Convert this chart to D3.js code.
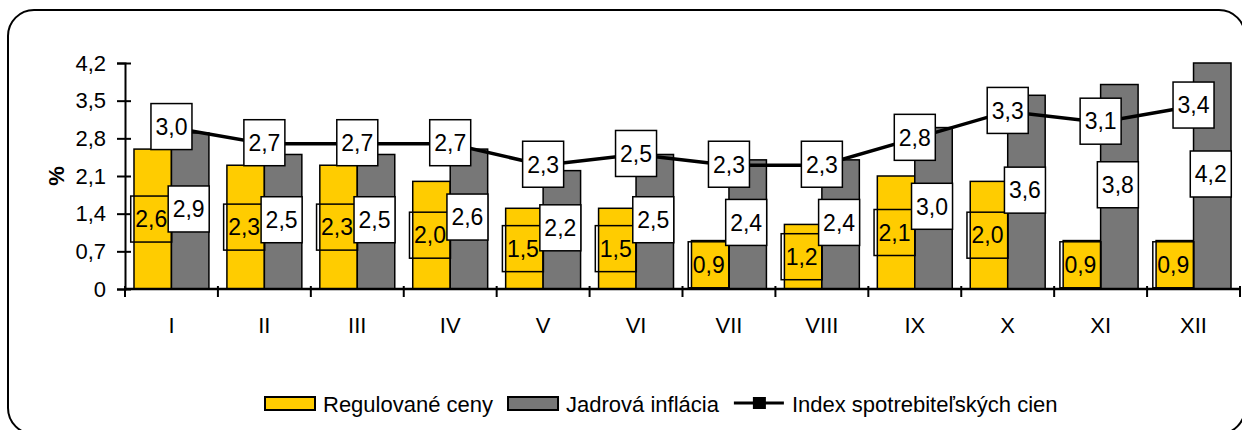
<!DOCTYPE html>
<html>
<head>
<meta charset="utf-8">
<script src="https://cdn.jsdelivr.net/npm/d3@7"></script>
<style>
  body { margin: 0; background: #fff; }
  svg { display: block; font-family: "Liberation Sans", Arial, sans-serif; }
</style>
</head>
<body>
<svg id="chart" width="1242" height="430"></svg>
<script>
const months = ['I', 'II', 'III', 'IV', 'V', 'VI', 'VII', 'VIII', 'IX', 'X', 'XI', 'XII'];
const regulovane = [2.6, 2.3, 2.3, 2.0, 1.5, 1.5, 0.9, 1.2, 2.1, 2.0, 0.9, 0.9];
const jadrova = [2.9, 2.5, 2.5, 2.6, 2.2, 2.5, 2.4, 2.4, 3.0, 3.6, 3.8, 4.2];
const indexCien = [3.0, 2.7, 2.7, 2.7, 2.3, 2.5, 2.3, 2.3, 2.8, 3.3, 3.1, 3.4];
const yTicks = [0, 0.7, 1.4, 2.1, 2.8, 3.5, 4.2];
const seriesNames = ['Regulované ceny', 'Jadrová inflácia', 'Index spotrebiteľských cien'];

const yellow = '#FFCC00';
const grey = '#777777';
const fmt = v => v === 0 ? '0' : d3.format('.1f')(v).replace('.', ',');

const svg = d3.select('#chart');

// frame
svg.append('rect')
    .attr('x', 8).attr('y', 10)
    .attr('width', 1237).attr('height', 424)
    .attr('rx', 26)
    .attr('fill', 'none')
    .attr('stroke', '#000')
    .attr('stroke-width', 2);

const x = d3.scaleBand().domain(months).range([125, 1240]);
const xs = d3.scaleBand().domain(['reg', 'jad']).range([0, x.bandwidth()]).paddingOuter(0.24);
const y = d3.scaleLinear().domain([0, 4.2]).range([289, 63]);

// y axis
const yAxis = svg.append('g')
    .attr('transform', 'translate(125,0)')
    .call(d3.axisLeft(y).tickValues(yTicks).tickFormat(fmt).tickSize(8).tickPadding(12));
yAxis.attr('font-size', null).attr('font-family', null);
yAxis.select('.domain').attr('stroke', '#000').attr('stroke-width', 2);
yAxis.selectAll('.tick line').attr('x2', 6).attr('x1', -8).attr('stroke-width', 2);
yAxis.selectAll('.tick text')
    .attr('fill', '#000')
    .attr('x', -19)
    .style('font-size', '22px');

svg.append('text')
    .attr('transform', 'translate(64,176) rotate(-90)')
    .attr('text-anchor', 'middle')
    .style('font-size', '22px')
    .attr('font-weight', 'bold')
    .text('%');

// bars
const groups = svg.append('g').selectAll('g')
    .data(months)
    .join('g')
    .attr('transform', d => `translate(${x(d)},0)`);

groups.append('rect')
    .attr('x', xs('reg'))
    .attr('y', (d, i) => y(regulovane[i]))
    .attr('width', xs.bandwidth())
    .attr('height', (d, i) => y(0) - y(regulovane[i]))
    .attr('fill', yellow)
    .attr('stroke', '#000')
    .attr('stroke-width', 1.5);

groups.append('rect')
    .attr('x', xs('jad'))
    .attr('y', (d, i) => y(jadrova[i]))
    .attr('width', xs.bandwidth())
    .attr('height', (d, i) => y(0) - y(jadrova[i]))
    .attr('fill', grey)
    .attr('stroke', '#000')
    .attr('stroke-width', 1.5);

// x axis
const xAxis = svg.append('g')
    .attr('transform', 'translate(0,289)');
xAxis.append('line')
    .attr('x1', 125).attr('x2', 1241)
    .attr('stroke', '#000').attr('stroke-width', 2.5);
xAxis.selectAll('.tk')
    .data(months.map(m => x(m)).concat([x.range()[1]]))
    .join('line')
    .attr('class', 'tk')
    .attr('x1', d => d).attr('x2', d => d)
    .attr('y1', -3).attr('y2', 8)
    .attr('stroke', '#000').attr('stroke-width', 2);
xAxis.selectAll('.lbl')
    .data(months)
    .join('text')
    .attr('class', 'lbl')
    .attr('x', d => x(d) + x.bandwidth() / 2)
    .attr('y', 44)
    .attr('text-anchor', 'middle')
    .style('font-size', '22px')
    .text(d => d);

// line
const cx = m => x(m) + x.bandwidth() / 2;
svg.append('path')
    .datum(indexCien)
    .attr('fill', 'none')
    .attr('stroke', '#000')
    .attr('stroke-width', 3.5)
    .attr('d', d3.line().x((d, i) => cx(months[i])).y(d => y(d)));

svg.append('g').selectAll('rect')
    .data(indexCien)
    .join('rect')
    .attr('x', (d, i) => cx(months[i]) - 5)
    .attr('y', d => y(d) - 5)
    .attr('width', 10).attr('height', 10)
    .attr('fill', '#000');

// labels
const bw = 41, bh = 46;
function label(g, px, py, txt, fill) {
    g.append('rect')
        .attr('x', px - bw / 2).attr('y', py - bh / 2)
        .attr('width', bw).attr('height', bh)
        .attr('fill', fill)
        .attr('stroke', '#000')
        .attr('stroke-width', 1.5);
    g.append('text')
        .attr('x', px).attr('y', py)
        .attr('dy', '0.36em')
        .attr('text-anchor', 'middle')
        .style('font-size', '23px')
        .text(txt);
}

const labels = svg.append('g');
months.forEach((m, i) => {
    label(labels, x(m) + xs('reg') + xs.bandwidth() / 2 - 1.5, (y(0) + y(regulovane[i])) / 2, fmt(regulovane[i]), 'none');
    label(labels, x(m) + xs('jad') + xs.bandwidth() / 2 - 1.5, (y(0) + y(jadrova[i])) / 2 - 2, fmt(jadrova[i]), '#fff');
    label(labels, cx(m), y(indexCien[i]) - 1, fmt(indexCien[i]), '#fff');
});

// legend
const legend = svg.append('g').attr('transform', 'translate(265,404)');
let lx = 0;
seriesNames.forEach((name, i) => {
    if (i < 2) {
        legend.append('rect')
            .attr('x', lx).attr('y', -7)
            .attr('width', 50).attr('height', 13)
            .attr('fill', i === 0 ? yellow : grey)
            .attr('stroke', '#000').attr('stroke-width', 2);
    } else {
        legend.append('line')
            .attr('x1', lx).attr('x2', lx + 50)
            .attr('y1', -1).attr('y2', -1)
            .attr('stroke', '#000').attr('stroke-width', 3);
        legend.append('rect')
            .attr('x', lx + 19).attr('y', -7)
            .attr('width', 13).attr('height', 12)
            .attr('fill', '#000');
    }
    const t = legend.append('text')
        .attr('x', lx + 58)
        .attr('y', 0)
        .attr('dy', '0.36em')
        .style('font-size', '22px')
        .text(name);
    lx += 58 + t.node().getComputedTextLength() + 15;
});
</script>
</body>
</html>
